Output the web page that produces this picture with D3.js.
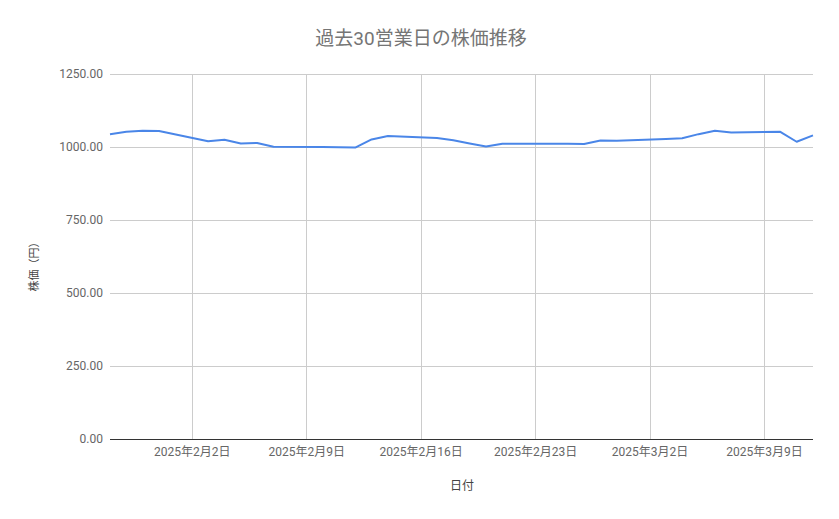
<!DOCTYPE html>
<html><head><meta charset="utf-8">
<script src="https://cdn.jsdelivr.net/npm/d3@7"></script>
<style>
body{margin:0;background:#fff;}
text{font-family:Roboto,"Noto Sans CJK JP",sans-serif;}
</style></head>
<body><svg id="c" width="839" height="519"></svg>
<script>
const dates = ["2025-01-28","2025-01-29","2025-01-30","2025-01-31",
"2025-02-03","2025-02-04","2025-02-05","2025-02-06","2025-02-07",
"2025-02-10","2025-02-12","2025-02-13","2025-02-14",
"2025-02-17","2025-02-18","2025-02-19","2025-02-20","2025-02-21",
"2025-02-25","2025-02-26","2025-02-27","2025-02-28",
"2025-03-03","2025-03-04","2025-03-05","2025-03-06","2025-03-07",
"2025-03-10","2025-03-11","2025-03-12"];
const prices = [1044,1052,1056,1055,
1020,1025,1012,1014,1001,
1000,998,1026,1038,
1031,1023,1012,1002,1011,
1011,1010,1022,1021,
1027,1030,1044,1056,1050,
1052,1018,1040];
const yTicks = [0,250,500,750,1000,1250];
const xTickDates = ["2025-02-02","2025-02-09","2025-02-16","2025-02-23","2025-03-02","2025-03-09"];
const title = "過去30営業日の株価推移";
const xLabel = "日付";
const yLabel = "株価（円）";

const parse = d3.timeParse("%Y-%m-%d");
const data = dates.map((d,i)=>({date:parse(d), v:prices[i]}));
const svg = d3.select("#c");
const L=110, R=813, T=74, B=439;
const x = d3.scaleTime().domain([data[0].date, data[data.length-1].date]).range([L,R]);
const y = d3.scaleLinear().domain([0,1250]).range([B,T]);

// horizontal grid
svg.append("g").selectAll("line").data(yTicks.filter(t=>t>0)).join("line")
 .attr("x1",L).attr("x2",R).attr("y1",d=>y(d)).attr("y2",d=>y(d))
 .attr("stroke","#cccccc").attr("stroke-width",1).attr("shape-rendering","crispEdges");
// vertical grid
const xt = xTickDates.map(parse);
svg.append("g").selectAll("line").data(xt).join("line")
 .attr("x1",d=>Math.round(x(d))+0.5).attr("x2",d=>Math.round(x(d))+0.5).attr("y1",T).attr("y2",B)
 .attr("stroke","#cccccc").attr("stroke-width",1);

// y axis labels
const yAxis = d3.axisLeft(y).tickValues(yTicks).tickFormat(d=>d3.format(".2f")(d)).tickSize(0).tickPadding(7);
const ya = svg.append("g").attr("transform",`translate(${L},0)`).call(yAxis);
ya.select(".domain").remove();
ya.selectAll("text").attr("font-size","12px").attr("fill","#666").style("font-family","Roboto,'Noto Sans CJK JP',sans-serif");

// x axis labels
const fmt = d=>`${d.getFullYear()}年${d.getMonth()+1}月${d.getDate()}日`;
const xAxis = d3.axisBottom(x).tickValues(xt).tickFormat(fmt).tickSize(0).tickPadding(8);
const xa = svg.append("g").attr("transform",`translate(0,${B})`).call(xAxis);
xa.select(".domain").remove();
xa.selectAll("text").attr("font-size","12px").attr("fill","#666").style("font-family","Roboto,'Noto Sans CJK JP',sans-serif");

// baseline
svg.append("line").attr("x1",L).attr("x2",R).attr("y1",y(0)+0.5).attr("y2",y(0)+0.5)
 .attr("stroke","#333").attr("stroke-width",1);

// line
const line = d3.line().x(d=>x(d.date)).y(d=>y(d.v));
svg.append("path").datum(data).attr("d",line).attr("fill","none")
 .attr("stroke","#4a86e8").attr("stroke-width",2).attr("stroke-linejoin","round");

// title
svg.append("text").attr("x",421).attr("y",45).attr("text-anchor","middle")
 .attr("font-size","19px").attr("fill","#757575").text(title);
// x label
svg.append("text").attr("x",462).attr("y",490).attr("text-anchor","middle")
 .attr("font-size","12px").attr("fill","#444").text(xLabel);
// y label
svg.append("text").attr("transform","translate(38,264) rotate(-90)").attr("text-anchor","middle")
 .attr("font-size","11px").attr("fill","#444").text(yLabel);
</script></body></html>
